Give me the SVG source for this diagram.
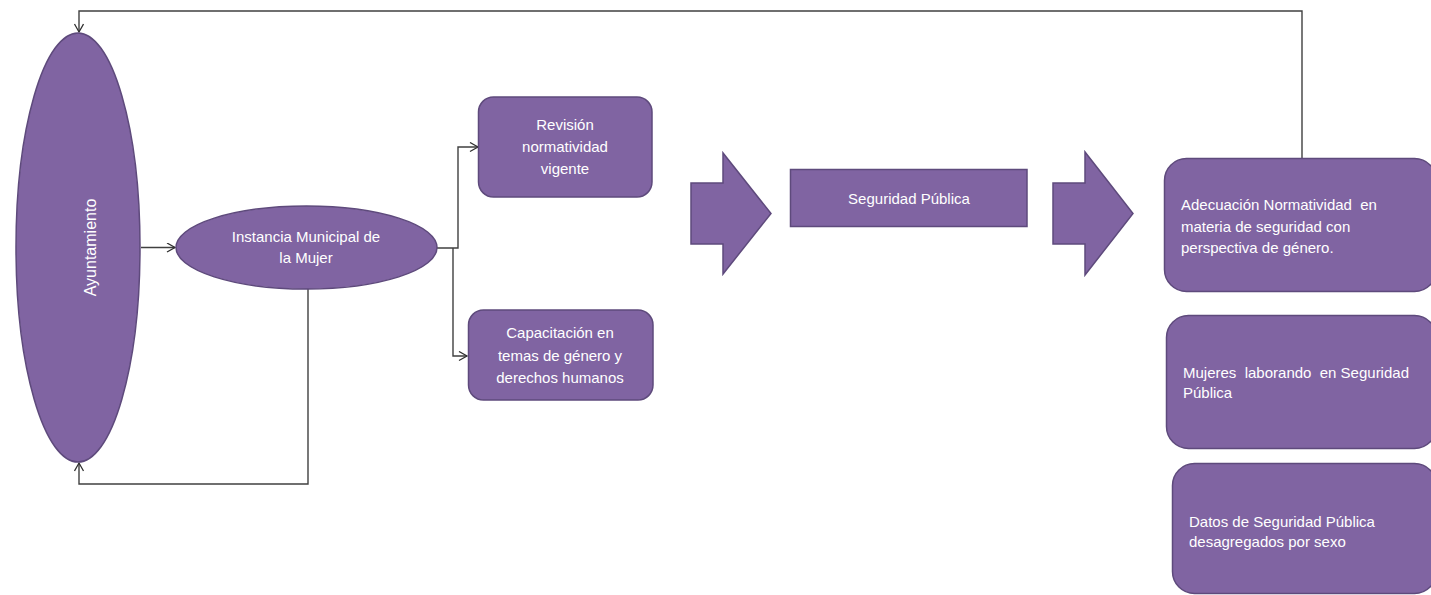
<svg xmlns="http://www.w3.org/2000/svg" width="1431" height="595" viewBox="0 0 1431 595">
<style>
.shape{fill:#8064A2;stroke:#5E4A7C;stroke-width:1.5}
.txt{font-family:"Liberation Sans",Arial,sans-serif;font-size:15px;fill:#FFFFFF;white-space:pre}
.c{text-anchor:middle}
.conn{fill:none;stroke:#404040;stroke-width:1.4}
</style>
<defs>
<marker id="arr" markerWidth="12" markerHeight="12" refX="9" refY="5" orient="auto" markerUnits="userSpaceOnUse">
<path d="M1,0.5 L9,5 L1,9.5" fill="none" stroke="#303030" stroke-width="1.3"/>
</marker>
</defs>
<rect width="1431" height="595" fill="#FFFFFF"/>
<g id="connectors">
<path class="conn" d="M141,247.5 H175" marker-end="url(#arr)"/>
<path class="conn" d="M437,248 H458 V147 H478" marker-end="url(#arr)"/>
<path class="conn" d="M453,248 V356 H467" marker-end="url(#arr)"/>
<path class="conn" d="M308,289 V484 H79 V463" marker-end="url(#arr)"/>
<path class="conn" d="M1302,158 V11 H79 V32" marker-end="url(#arr)"/>
</g>
<g id="ayuntamiento">
<ellipse class="shape" cx="78" cy="247.5" rx="62" ry="214.5"/>
<text class="txt c" style="font-size:16px" transform="translate(96,247.5) rotate(-90)">Ayuntamiento</text>
</g>
<g id="instancia">
<ellipse class="shape" cx="306.5" cy="247.5" rx="130.5" ry="41.5"/>
<text class="txt c" x="306" y="242">Instancia Municipal de</text>
<text class="txt c" x="306" y="263">la Mujer</text>
</g>
<g id="revision">
<rect class="shape" x="478.5" y="97" width="173.5" height="100" rx="15"/>
<text class="txt c" x="565" y="130">Revisión</text>
<text class="txt c" x="565" y="152">normatividad</text>
<text class="txt c" x="565" y="174">vigente</text>
</g>
<g id="capacitacion">
<rect class="shape" x="468.5" y="310" width="184.5" height="90" rx="15"/>
<text class="txt c" x="560" y="338">Capacitación en</text>
<text class="txt c" x="560" y="361">temas de género y</text>
<text class="txt c" x="560" y="383">derechos humanos</text>
</g>
<g id="flecha1">
<path class="shape" d="M691,183 H723 V153 L771,213.5 L723,274 V244 H691 Z"/>
</g>
<g id="seguridad">
<rect class="shape" x="790.5" y="169.5" width="236.5" height="57"/>
<text class="txt c" x="909" y="204">Seguridad Pública</text>
</g>
<g id="flecha2">
<path class="shape" d="M1053,183 H1085 V152 L1133,213.5 L1085,275 V244 H1053 Z"/>
</g>
<g id="adecuacion">
<rect class="shape" x="1164.5" y="158.5" width="272" height="133" rx="22"/>
<text class="txt" x="1181" y="210" xml:space="preserve">Adecuación Normatividad  en</text>
<text class="txt" x="1181" y="232">materia de seguridad con</text>
<text class="txt" x="1181" y="253">perspectiva de género.</text>
</g>
<g id="mujeres">
<rect class="shape" x="1166.5" y="315.5" width="270" height="133" rx="22"/>
<text class="txt" x="1183" y="378" xml:space="preserve">Mujeres  laborando  en Seguridad</text>
<text class="txt" x="1183" y="398">Pública</text>
</g>
<g id="datos">
<rect class="shape" x="1172.5" y="463.5" width="264" height="130" rx="22"/>
<text class="txt" x="1189" y="527">Datos de Seguridad Pública</text>
<text class="txt" x="1189" y="547">desagregados por sexo</text>
</g>
</svg>
